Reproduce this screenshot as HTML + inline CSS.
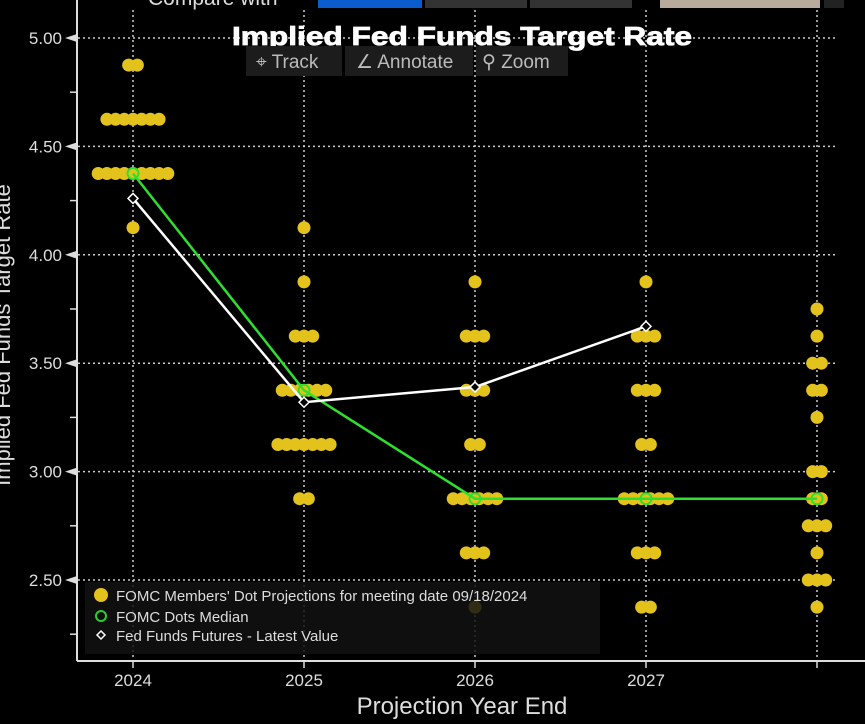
<!DOCTYPE html>
<html><head><meta charset="utf-8"><style>
html,body{margin:0;padding:0;background:#000;width:865px;height:724px;overflow:hidden;font-family:"Liberation Sans",sans-serif}
svg{display:block}
</style></head><body>
<svg id="c" width="865" height="724" xmlns="http://www.w3.org/2000/svg">
<g>
<text x="148" y="5" fill="#ddd" font-size="21">Compare with</text>
<rect x="318" y="0" width="104" height="8" fill="#0b5ccf"/>
<rect x="425" y="0" width="102" height="8" fill="#333"/>
<rect x="530" y="0" width="102" height="8" fill="#333"/>
<rect x="660" y="0" width="160" height="8" fill="#b8ab9c"/>
<rect x="824" y="0" width="20" height="8" fill="#222"/>
</g>
<g id="grid"></g>
<g id="axes"></g>
<g id="marks"></g>
<text x="462" y="45" fill="#fff" stroke="#fff" stroke-width="0.8" font-size="26" font-weight="bold" text-anchor="middle" textLength="460" lengthAdjust="spacingAndGlyphs">Implied Fed Funds Target Rate</text>
<g>
<rect x="246" y="46" width="96" height="30" fill="#1c1c1c"/>
<rect x="345" y="46" width="128" height="30" fill="#1c1c1c"/>
<rect x="476" y="46" width="92" height="30" fill="#1c1c1c"/>
<text x="256" y="68" fill="#bbb" font-size="19">⌖ Track</text>
<text x="356" y="68" fill="#bbb" font-size="19">∠ Annotate</text>
<text x="482" y="68" fill="#bbb" font-size="19">⚲ Zoom</text>
</g>
<g>
<rect x="85" y="582" width="515" height="72" fill="#121212" opacity="0.85"/>
<circle cx="101" cy="595" r="7" fill="#e4c21c"/>
<text x="116" y="601" fill="#ddd" font-size="15">FOMC Members' Dot Projections for meeting date 09/18/2024</text>
<circle cx="101" cy="616" r="5" fill="none" stroke="#2ecc2e" stroke-width="2"/>
<text x="116" y="622" fill="#ddd" font-size="15">FOMC Dots Median</text>
<path d="M101 631 L105 635 L101 639 L97 635Z" fill="none" stroke="#fff" stroke-width="1.5"/>
<text x="116" y="641" fill="#ddd" font-size="15">Fed Funds Futures - Latest Value</text>
</g>
<text x="462" y="714" fill="#ddd" font-size="24" text-anchor="middle">Projection Year End</text>
<text transform="translate(10,335) rotate(-90)" fill="#ddd" font-size="22" text-anchor="middle">Implied Fed Funds Target Rate</text>
</svg>
<script>
const categories=["2024","2025","2026","2027","Longer Run"];
const xTickLabels=["2024","2025","2026","2027",""];
const yTicks=[2.5,3.0,3.5,4.0,4.5,5.0];
const dotLevels=[
 [4.875,4.625,4.375,4.125],
 [4.125,3.875,3.625,3.375,3.125,2.875],
 [3.875,3.625,3.375,3.125,2.875,2.625,2.375],
 [3.875,3.625,3.375,3.125,2.875,2.625,2.375],
 [3.75,3.625,3.5,3.375,3.25,3.0,2.875,2.75,2.625,2.5,2.375]
];
const dotCounts=[
 [2,7,9,1],
 [1,1,3,6,7,2],
 [1,3,3,2,6,3,1],
 [1,3,3,2,6,3,2],
 [1,1,2,2,1,2,2,3,1,3,1]
];
const medianValues=[4.375,3.375,2.875,2.875,2.875];
const futuresValues=[4.26,3.32,3.39,3.67];

const NS="http://www.w3.org/2000/svg";
const xS=i=>133+i*171;
const yS=v=>38+(5-v)*216.8;
function mk(t,a,p){const e=document.createElementNS(NS,t);for(const k in a)e.setAttribute(k,a[k]);p.appendChild(e);return e;}
const grid=document.getElementById('grid'),axes=document.getElementById('axes'),marks=document.getElementById('marks');
yTicks.forEach(v=>{
 const l=mk('line',{x1:78,x2:835,y1:yS(v),y2:yS(v),stroke:'#ccc','stroke-width':1.5,'stroke-dasharray':'2 3'},grid);
 
 
 const t=mk('text',{x:62,y:yS(v)+6,fill:'#ddd','font-size':17,'text-anchor':'end'},axes);
 t.textContent=v.toFixed(2);
 
 
 const tri=mk('path',{d:`M65 ${yS(v)} L77 ${yS(v)-4} L77 ${yS(v)+4}Z`,fill:'#ddd'},axes);
 
 
 const m=mk('line',{x1:70,x2:77,y1:yS(v-0.25),y2:yS(v-0.25),stroke:'#ddd','stroke-width':1.5},axes);
 
 
});
categories.forEach((c,i)=>{
 const l=mk('line',{x1:xS(i),x2:xS(i),y1:10,y2:660,stroke:'#ccc','stroke-width':1.5,'stroke-dasharray':'2 3'},grid);
 
 
 const tk=mk('line',{x1:xS(i),x2:xS(i),y1:661,y2:668,stroke:'#ddd','stroke-width':1.5},axes);
 
 
 const t=mk('text',{x:xS(i),y:686,fill:'#ddd','font-size':17,'text-anchor':'middle'},axes);
 t.textContent=xTickLabels[i];
 
 
});
const ya=mk('line',{x1:77,x2:77,y1:0,y2:661,stroke:'#ddd','stroke-width':2},axes);


const xa=mk('line',{x1:77,x2:865,y1:661,y2:661,stroke:'#ddd','stroke-width':2},axes);


dotLevels.forEach((lv,i)=>{lv.forEach((v,j)=>{const n=dotCounts[i][j];for(let k=0;k<n;k++){
 const cx=xS(i)+(k-(n-1)/2)*8.7;
 const d=mk('circle',{cx:cx,cy:yS(v),r:6.5,fill:'#e4c21c'},marks);
 
 
}});});
const mp=mk('polyline',{points:medianValues.map((v,i)=>xS(i)+','+yS(v)).join(' '),fill:'none',stroke:'#2ee02e','stroke-width':2.5},marks);


medianValues.forEach((v,i)=>{
 const c=mk('circle',{cx:xS(i),cy:yS(v),r:5.5,fill:'none',stroke:'#2ee02e','stroke-width':2},marks);
 
 
});
const fp=mk('polyline',{points:futuresValues.map((v,i)=>xS(i)+','+yS(v)).join(' '),fill:'none',stroke:'#fff','stroke-width':2.5},marks);


futuresValues.forEach((v,i)=>{
 const x=xS(i),y=yS(v);
 const d=mk('path',{d:`M${x} ${y-5} L${x+5} ${y} L${x} ${y+5} L${x-5} ${y}Z`,fill:'#000',stroke:'#fff','stroke-width':1.5},marks);
 
 
});
</script>
</body></html>
